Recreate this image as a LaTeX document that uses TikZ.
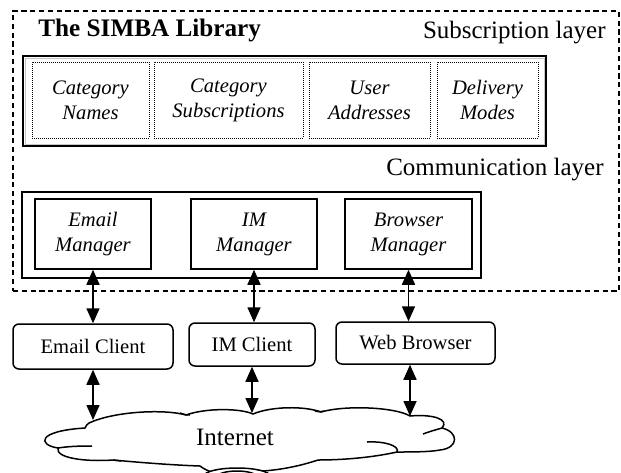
\documentclass[tikz,border=0pt]{standalone}
\usepackage{fontspec}
\setmainfont{Liberation Serif}
\usetikzlibrary{arrows.meta}
\newcommand\boxColor{black}
\newcommand\boxLineWidth{0.75pt}
\newcommand\layerLineWidth{0.9pt}
\newcommand\frameLineWidth{1pt}
\newcommand\arrowLineWidth{0.8pt}
\newcommand\dotBoxHeight{38pt}
\newcommand\managerHeight{35pt}
\newcommand\labelFont{\fontsize{10.3pt}{12.5pt}\selectfont}
\newcommand\layerFont{\fontsize{12.5pt}{14pt}\selectfont}
\newcommand\titleFont{\fontsize{12.6pt}{14pt}\selectfont\bfseries}

\tikzset{
  dotbox/.style={draw=\boxColor, line width=0.5pt, dash pattern=on 0.45pt off 0.55pt, shape=rectangle, minimum height=\dotBoxHeight, align=center, font=\labelFont\itshape, inner sep=0pt, anchor=center},
  managerbox/.style={draw=\boxColor, line width=\boxLineWidth, shape=rectangle, minimum height=\managerHeight, align=center, font=\labelFont\itshape, inner sep=0pt, anchor=center},
  clientbox/.style={draw=\boxColor, line width=\boxLineWidth, rounded corners=3pt, shape=rectangle, font=\labelFont, inner sep=0pt, anchor=center},
  layerbox/.style={draw=\boxColor, line width=\layerLineWidth, shape=rectangle, inner sep=0pt, anchor=center},
  layerlabel/.style={font=\layerFont, inner sep=0pt, anchor=east},
  twoway/.style={line width=\arrowLineWidth, {Triangle[length=7.5pt,width=6.5pt]}-{Triangle[length=7.5pt,width=6.5pt]}},
}

\begin{document}
\begin{tikzpicture}[x=0.5pt, y=-0.5pt]
    \useasboundingbox (0,0) rectangle (621,472);

    % the dashed frame round the library
    \node [draw=\boxColor, line width=\frameLineWidth, dash pattern=on 2.6pt off 1.8pt, shape=rectangle, minimum width=303pt, minimum height=140pt, anchor=center] (library) at (316,151) {};
    \node [font=\titleFont, inner sep=0pt, anchor=west] (title) at (38,30) {The SIMBA Library};

    % subscription layer
    \node [layerlabel] (subLabel) at (606,33) {Subscription layer};
    \node [draw=gray!45, line width=0.5pt, shape=rectangle, minimum width=259.5pt, minimum height=43pt, anchor=center] (subShade) at (284.5,101) {};
    \node [layerbox, minimum width=261.5pt, minimum height=45pt] (subLayer) at (284.5,101) {};
    \node [dotbox, minimum width=58.5pt] (catNames) at (90.5,100) {Category\\Names};
    \node [dotbox, minimum width=74.5pt] (catSubs) at (228.5,100) {Category\\Subscriptions};
    \node [dotbox, minimum width=60.5pt] (userAddr) at (369.5,100) {User\\Addresses};
    \node [dotbox, minimum width=50.5pt] (delModes) at (487.5,100) {Delivery\\Modes};

    % communication layer
    \node [layerlabel] (commLabel) at (604,170) {Communication layer};
    \node [layerbox, minimum width=229.5pt, minimum height=43pt] (commLayer) at (251.5,235) {};
    \node [managerbox, minimum width=58pt] (emailMgr) at (93,234) {Email\\Manager};
    \node [managerbox, minimum width=63pt] (imMgr) at (254,234) {IM\\Manager};
    \node [managerbox, minimum width=63.5pt] (browserMgr) at (408.5,234) {Browser\\Manager};

    % clients
    \node [clientbox, minimum width=80pt, minimum height=22.5pt] (emailCl) at (93,346.5) {Email Client};
    \node [clientbox, minimum width=63pt, minimum height=21.5pt] (imCl) at (252,344.5) {IM Client};
    \node [clientbox, minimum width=79.5pt, minimum height=21pt] (webCl) at (415.5,343) {Web Browser};

    % the internet cloud
    \begin{scope}
        \clip (0,0) rectangle (621,472);
        \draw [line width=\boxLineWidth, fill=white]
            (89,423) .. controls (115,411) and (165,409) .. (186,415)
            .. controls (205,408) and (240,408) .. (253,414)
            .. controls (272,406) and (305,406) .. (321,412)
            .. controls (345,405) and (395,407) .. (410,416)
            .. controls (432,414) and (450,419) .. (442,428)
            .. controls (459,432) and (459,448) .. (440,450)
            .. controls (430,452) and (410,452) .. (397,452)
            .. controls (370,458) and (340,460) .. (318,460)
            .. controls (300,466) and (280,470) .. (262,471)
            .. controls (250,478) and (215,478) .. (200,466)
            .. controls (170,465) and (135,462) .. (113,460)
            .. controls (85,462) and (55,458) .. (58,448)
            .. controls (38,445) and (36,431) .. (85,428)
            .. controls (86,426) and (87,424) .. (89,423) -- cycle;
        \draw [line width=\boxLineWidth]
            (58,448) .. controls (70,446) and (85,446) .. (92,446)
            (442,428) .. controls (435,430) and (428,432) .. (423,434)
            (367,442) .. controls (385,441) and (400,446) .. (397,452)
            (180,413) .. controls (183,414) and (185,415) .. (190,415)
            (315,411) .. controls (318,412) and (320,412) .. (324,411)
            (113,460) .. controls (116,460) and (118,461) .. (121,461);
        \draw [line width=\boxLineWidth, fill=white] (237,476) ellipse [x radius=33, y radius=8];
        \draw [line width=\boxLineWidth] (237,477) ellipse [x radius=20, y radius=6];
    \end{scope}
    \node [font=\layerFont, inner sep=0pt] (inet) at (235,437) {Internet};
    \coordinate (netEmail) at (93,420);
    \coordinate (netIm) at (252,413);
    \coordinate (netWeb) at (410,416);

    % connectors
    \draw [twoway] (emailMgr.south) -- (emailCl.north);
    \draw [twoway] (imMgr.south) -- (imMgr.south |- imCl.north);
    \draw [twoway] (browserMgr.south) -- (browserMgr.south |- webCl.north);
    \draw [twoway] (emailCl.south) -- (netEmail);
    \draw [twoway] (imCl.south) -- (netIm);
    \draw [twoway] (netWeb |- webCl.south) -- (netWeb);
\end{tikzpicture}
\end{document}
